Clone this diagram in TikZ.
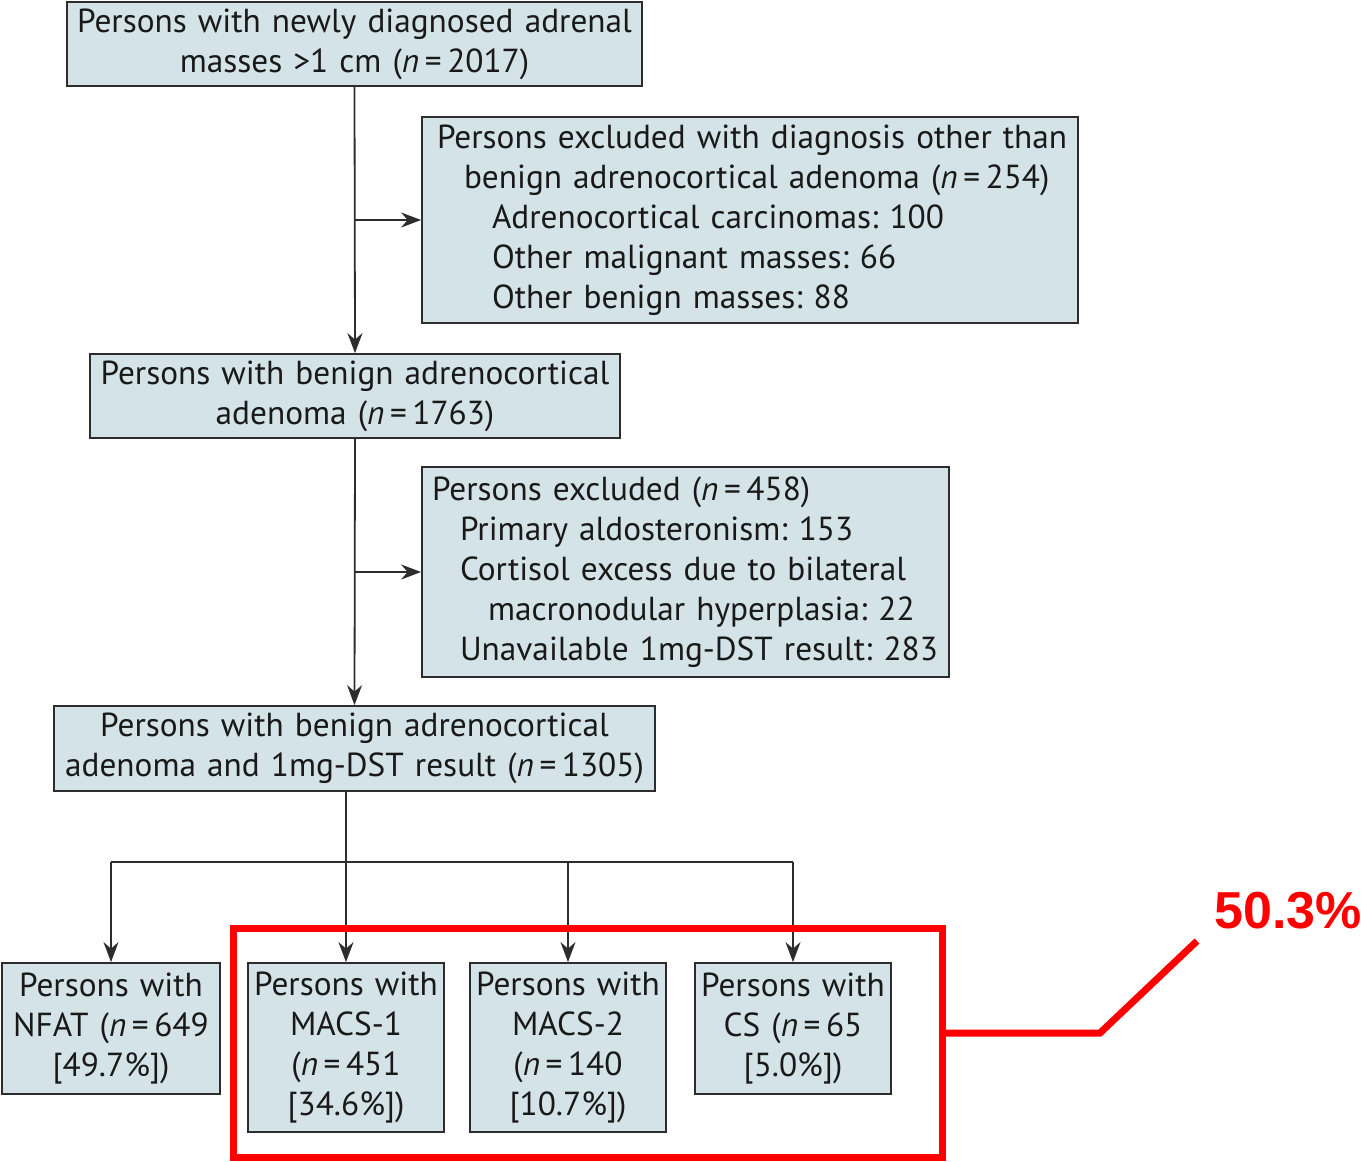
\documentclass[tikz,border=0pt]{standalone}
\usepackage{fontspec}
\setmainfont{PT Sans}
\newfontfamily\calloutfont{Liberation Sans}
\usetikzlibrary{arrows.meta,calc}
\definecolor{boxfill}{RGB}{211,227,231}
\definecolor{boxline}{RGB}{45,45,45}
\definecolor{textcol}{RGB}{25,25,25}
\definecolor{calred}{RGB}{255,0,0}
\newcommand{\nn}[1]{({\itshape n}\,=\,#1}
\frenchspacing
\begin{document}
\begin{tikzpicture}[x=1pt,y=-1pt,
  box/.style={draw=boxline, line width=1.8pt, fill=boxfill, inner ysep=0pt, inner xsep=0pt,
    font=\fontsize{33.3}{40}\selectfont, text=textcol},
  arr/.style={-{Stealth[length=20pt,width=15pt]}, line width=1.8pt, draw=boxline},
  plain/.style={line width=1.8pt, draw=boxline},
  redline/.style={draw=calred, line width=7pt}]
\useasboundingbox (0,0) rectangle (1366,1162);

\node[box, text width=575pt, minimum height=84pt, align=center] (b1) at (354.5,44)
  {Persons with newly diagnosed adrenal\\masses >1 cm \nn{2017})};
\node[box, text width=626pt, inner xsep=15pt, minimum height=206pt, align=left] (b2) at (750,220)
  {\mbox{Persons excluded with diagnosis other than}\\
   \mbox{\hspace*{27pt}benign adrenocortical adenoma \nn{254})}\\
   \mbox{\hspace*{55pt}Adrenocortical carcinomas: 100}\\
   \mbox{\hspace*{55pt}Other malignant masses: 66}\\
   \mbox{\hspace*{55pt}Other benign masses: 88}};
\node[box, text width=530pt, minimum height=84pt, align=center] (b3) at (355,396)
  {Persons with benign adrenocortical\\adenoma \nn{1763})};
\node[box, text width=507pt, inner xsep=10pt, minimum height=210pt, align=left] (b4) at (685.5,572)
  {\mbox{Persons excluded \nn{458})}\\
   \mbox{\hspace*{28pt}Primary aldosteronism: 153}\\
   \mbox{\hspace*{28pt}Cortisol excess due to bilateral}\\
   \mbox{\hspace*{56pt}macronodular hyperplasia: 22}\\
   \mbox{\hspace*{28pt}Unavailable 1mg-DST result: 283}};
\node[box, text width=601pt, minimum height=85pt, align=center] (b5) at (354.5,748.5)
  {Persons with benign adrenocortical\\adenoma and 1mg-DST result \nn{1305})};

\node[box, text width=218pt, minimum height=131pt, align=center] (nf) at (111,1028.5)
  {Persons with\\NFAT \nn{649}\\{}[49.7\%])};
\node[box, text width=196pt, minimum height=169pt, align=center] (m1) at (346,1047.5)
  {Persons with\\MACS-1\\\nn{451}\\{}[34.6\%])};
\node[box, text width=196pt, minimum height=169pt, align=center] (m2) at (568,1047.5)
  {Persons with\\MACS-2\\\nn{140}\\{}[10.7\%])};
\node[box, text width=196pt, minimum height=131pt, align=center] (cs) at (793,1028.5)
  {Persons with\\CS \nn{65}\\{}[5.0\%])};

\draw[arr] (b1.south) -- (b3.north);
\draw[arr] (b1.south |- b2.west) -- (b2.west);
\draw[arr] (b3.south) -- (b5.north);
\draw[arr] (b3.south |- b4.west) -- (b4.west);

\coordinate (hy) at (0,862);
\draw[arr] (b5.south -| m1.north) -- (m1.north);
\draw[plain] (nf.north |- hy) -- (cs.north |- hy);
\draw[arr] (nf.north |- hy) -- (nf.north);
\draw[arr] (m2.north |- hy) -- (m2.north);
\draw[arr] (cs.north |- hy) -- (cs.north);

\node[redline, minimum width=709pt, minimum height=229pt, inner sep=0pt] (hl) at (588,1043) {};
\coordinate (bend) at (1100,1033);
\coordinate (tip) at (1197,941);
\draw[redline] (hl.east |- bend) -- (bend) -- (tip);
\node[font=\calloutfont\bfseries\fontsize{52}{60}\selectfont, text=calred, inner sep=0pt] (pct) at (1288,911) {50.3\%};
\end{tikzpicture}
\end{document}
